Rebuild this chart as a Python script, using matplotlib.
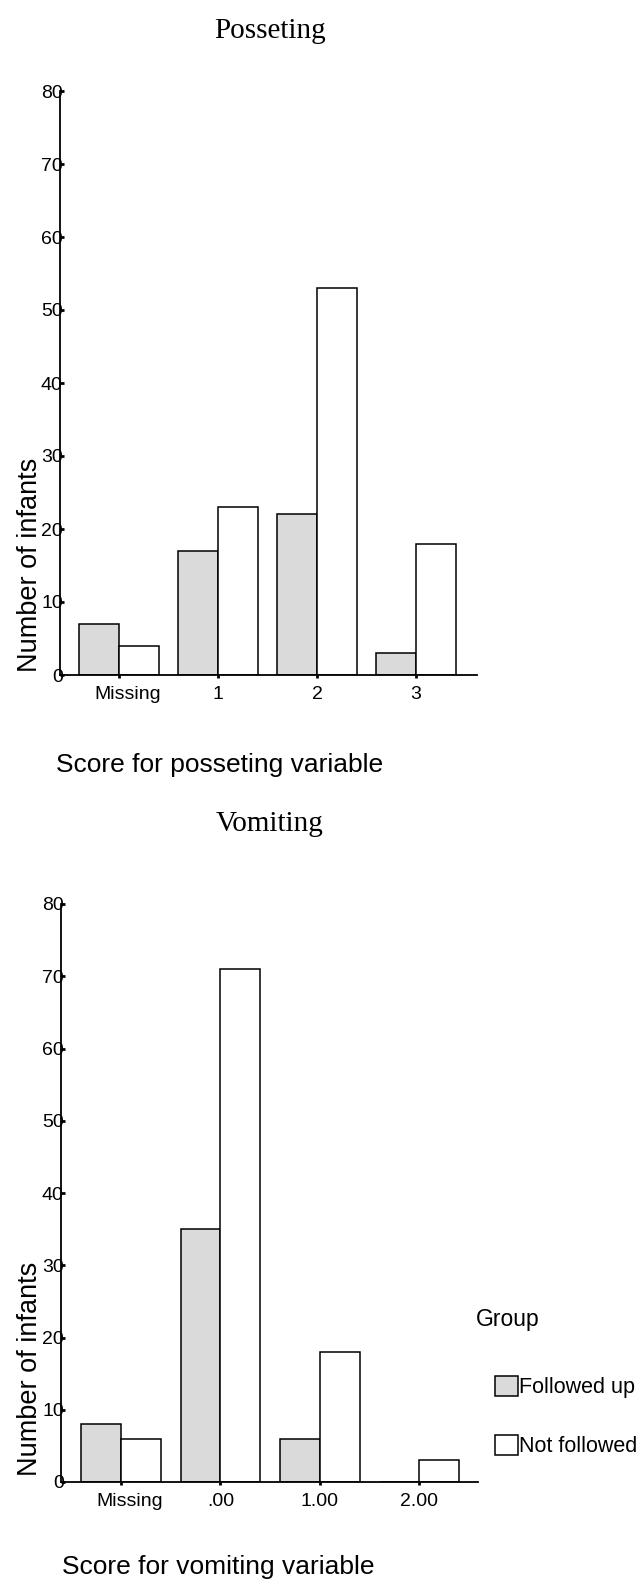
import matplotlib
matplotlib.use("Agg")
from matplotlib import pyplot as plt
from matplotlib import transforms
import numpy as np

W, H = 644, 1584

posset_cats = ["Missing", "1", "2", "3"]
posset_followed = [7, 17, 22, 3]
posset_not = [4, 23, 53, 18]

vomit_cats = ["Missing", ".00", "1.00", "2.00"]
vomit_followed = [8, 35, 6, 0]
vomit_not = [6, 71, 18, 3]

yticks = [0, 10, 20, 30, 40, 50, 60, 70, 80]
gray = "#dadada"
sans = "Liberation Sans"
serif = "Liberation Serif"

fig = plt.figure(figsize=(W / 100, H / 100), dpi=100)
fig.patch.set_facecolor("white")


def px_axes(left, right, top, bottom):
    return fig.add_axes([left / W, 1 - bottom / H, (right - left) / W, (bottom - top) / H])


def draw(ax, cats, followed, notf, xlim):
    x = np.arange(len(cats))
    w = 0.4
    b1 = ax.bar(x - w / 2, followed, w, color=gray, edgecolor="black", linewidth=1.1, label="Followed up")
    b2 = ax.bar(x + w / 2, notf, w, color="white", edgecolor="black", linewidth=1.1, label="Not followed")
    ax.set_xlim(*xlim)
    ax.set_ylim(0, 80)
    ax.set_xticks(x)
    ax.set_xticklabels(cats, fontsize=14, family=sans)
    ax.set_yticks(yticks)
    ax.set_yticklabels([str(v) for v in yticks], fontsize=14, family=sans)
    for s in ["top", "right"]:
        ax.spines[s].set_visible(False)
    ax.spines["left"].set_linewidth(1.3)
    ax.spines["bottom"].set_linewidth(1.3)
    ax.tick_params(axis="y", direction="in", length=3, width=2, pad=-2)
    ax.tick_params(axis="x", direction="out", length=2, width=2, pad=6)
    # the "Missing" label sits a little right of its tick in the original
    lab = ax.get_xticklabels()[0]
    lab.set_transform(lab.get_transform() + transforms.ScaledTranslation(9 / 100, 0, fig.dpi_scale_trans))
    return b1, b2


ax1 = px_axes(60, 477, 91, 675)
draw(ax1, posset_cats, posset_followed, posset_not, (-0.596, 3.616))

ax2 = px_axes(61, 478, 904, 1482)
h1, h2 = draw(ax2, vomit_cats, vomit_followed, vomit_not, (-0.603, 3.59))

fig.text(270 / W, 1 - 38 / H, "Posseting", ha="center", va="baseline", fontsize=21, family=serif)
fig.text(270 / W, 1 - 831 / H, "Vomiting", ha="center", va="baseline", fontsize=21, family=serif)

fig.text(56 / W, 1 - 772 / H, "Score for posseting variable", ha="left", va="baseline", fontsize=19, family=sans)
fig.text(62 / W, 1 - 1574 / H, "Score for vomiting variable", ha="left", va="baseline", fontsize=19, family=sans)

fig.text(30 / W, 1 - 565 / H, "Number of infants", rotation=90, ha="center", va="center", fontsize=19.5, family=sans)
fig.text(30 / W, 1 - 1369 / H, "Number of infants", rotation=90, ha="center", va="center", fontsize=19.5, family=sans)

fig.text(476 / W, 1 - 1326 / H, "Group", ha="left", va="baseline", fontsize=16.5, family=sans)
leg = fig.legend([h1, h2], ["Followed up", "Not followed"],
                 loc="upper left", bbox_to_anchor=(495 / W, 1 - 1376 / H),
                 frameon=False, handlelength=1.05, handleheight=1.05, handletextpad=0.08,
                 labelspacing=1.7, borderpad=0, borderaxespad=0,
                 prop={"family": sans, "size": 15.5})

fig.savefig("out.png", dpi=100, facecolor="white")
